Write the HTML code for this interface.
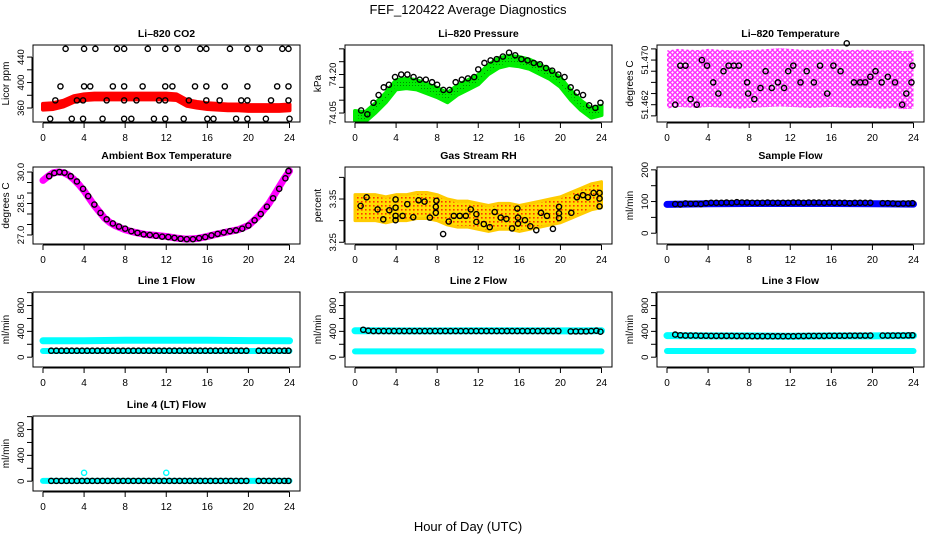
<!DOCTYPE html>
<html><head><meta charset="utf-8"><style>
html,body{margin:0;padding:0;background:#fff;}
svg{display:block;font-family:"Liberation Sans",Arial,sans-serif;}
</style></head><body>
<svg id="chart" width="936" height="540" viewBox="0 0 936 540" xmlns="http://www.w3.org/2000/svg">
<defs>
<pattern id="magPat" width="5" height="5" patternUnits="userSpaceOnUse"><circle cx="2.5" cy="2.5" r="1.8" fill="none" stroke="#ff00ff" stroke-width="1.2"/></pattern>
<pattern id="rhPat" width="4" height="4" patternUnits="userSpaceOnUse"><rect width="4" height="4" fill="#ffdd00"/><rect x="1" y="1" width="1.6" height="1.6" fill="#ff3300"/></pattern>
<pattern id="grnPat" width="3" height="3" patternUnits="userSpaceOnUse"><rect width="3" height="3" fill="#00ee00"/><rect x="1" y="1" width="1" height="1" fill="#008800"/></pattern>
</defs>
<text x="468" y="14" text-anchor="middle" font-size="13">FEF_120422  Average Diagnostics</text>
<text x="468" y="531" text-anchor="middle" font-size="13">Hour of Day (UTC)</text>
</svg>
<script>
// ---------- data ----------
const bandHours = [0,1,2,3,4,5,6,7,8,9,10,11,12,13,14,15,16,17,18,19,20,21,22,23,24];
const co2Band = [362,363,367,374,377,378,378,378,378,378,378,378,378,377,368,365,363,362,361,361,360,360,360,360,361];
const co2Hours = [2.2,4.0,5.1,7.2,7.9,10.2,11.9,13.1,15.3,15.9,18.2,19.9,21.1,23.3,23.9,
  1.7,4.0,4.6,6.8,7.9,9.7,11.9,12.6,14.8,15.9,17.7,19.9,22.8,23.9,
  1.2,3.3,3.9,6.2,7.9,9.1,11.3,11.9,14.2,15.9,17.2,19.3,19.9,22.2,23.9,
  0.7,2.8,3.9,5.8,7.9,8.6,10.8,11.9,13.7,16.0,16.6,18.8,19.9,21.7,24.0];
const co2Values = [453,453,453,453,453,453,453,453,453,453,453,453,453,453,453,
  394,394,394,394,394,394,394,394,394,394,394,394,394,394,
  372,372,372,372,372,372,372,372,372,372,372,372,372,372,372,
  343,343,343,343,343,343,343,343,343,343,343,343,343,343,343];
const presBand = [74.04,74.035,74.07,74.11,74.16,74.165,74.16,74.145,74.13,74.11,74.14,74.16,74.18,74.22,74.245,74.255,74.25,74.24,74.22,74.2,74.17,74.12,74.08,74.05,74.06];
const presHours = [0.6,1.2,1.8,2.3,2.8,3.3,3.9,4.5,5.1,5.7,6.3,6.9,7.5,8.0,8.6,9.2,9.8,10.4,11.0,11.6,12.0,12.6,13.2,13.8,14.4,15.0,15.6,16.2,16.8,17.4,18.0,18.6,19.2,19.8,20.4,21.0,21.6,22.2,22.8,23.4,23.9];
const presValues = [74.06,74.045,74.09,74.12,74.15,74.16,74.19,74.2,74.2,74.19,74.18,74.18,74.17,74.16,74.14,74.14,74.17,74.18,74.185,74.19,74.22,74.245,74.255,74.26,74.27,74.285,74.275,74.26,74.255,74.245,74.24,74.225,74.215,74.2,74.19,74.15,74.13,74.12,74.08,74.07,74.09];
const tempBand = [51.4665,51.4668,51.4667,51.4666,51.4668,51.4667,51.4666,51.4665,51.4666,51.4667,51.4668,51.4669,51.4668,51.4667,51.4666,51.4667,51.4668,51.4667,51.4666,51.4667,51.4666,51.4665,51.4666,51.4664,51.4665];
const tempHours = [0.8,1.3,1.8,2.3,2.9,3.4,3.9,4.5,5.0,5.5,6.0,6.5,7.0,7.8,7.9,8.5,9.1,9.6,10.2,10.8,11.4,11.8,12.3,13.0,13.6,14.3,14.9,15.6,16.2,16.9,17.5,18.2,18.8,19.3,19.8,20.3,20.9,21.5,22.2,22.9,23.3,23.8,23.9];
const tempValues = [51.462,51.469,51.469,51.463,51.462,51.470,51.469,51.466,51.464,51.468,51.469,51.469,51.469,51.466,51.464,51.463,51.465,51.468,51.465,51.466,51.465,51.468,51.469,51.466,51.468,51.466,51.469,51.464,51.469,51.468,51.473,51.466,51.466,51.466,51.467,51.468,51.466,51.467,51.466,51.462,51.464,51.466,51.469];
const ambLineHours = [0,0.5,1,1.5,2,2.5,3,3.5,4,4.5,5,5.5,6,6.5,7,7.5,8,9,10,11,12,13,14,15,16,17,18,19,20,21,22,23,23.5,24];
const ambLineValues = [29.6,29.8,29.97,30.0,29.97,29.85,29.65,29.4,29.1,28.75,28.4,28.1,27.8,27.6,27.45,27.35,27.25,27.12,27.02,26.98,26.93,26.85,26.8,26.83,26.93,27.05,27.15,27.25,27.45,27.9,28.5,29.3,29.7,30.05];
const ambHours = [0.6,1.1,1.6,2.1,2.7,3.3,3.9,4.4,5.0,5.6,6.2,6.8,7.4,8.0,8.6,9.2,9.8,10.4,11.0,11.6,12.2,12.8,13.4,14.0,14.6,15.2,15.8,16.4,17.0,17.6,18.2,18.8,19.4,20.0,20.6,21.2,21.8,22.4,23.0,23.6,23.9];
const ambValues = [29.8,29.95,30.0,29.97,29.8,29.55,29.2,28.85,28.45,28.05,27.75,27.55,27.4,27.3,27.18,27.1,27.03,27.0,26.96,26.92,26.9,26.86,26.82,26.8,26.8,26.85,26.9,26.98,27.05,27.12,27.18,27.22,27.3,27.45,27.7,28.0,28.35,28.75,29.2,29.7,30.05];
const rhBand = [3.33,3.33,3.33,3.325,3.33,3.33,3.335,3.335,3.33,3.32,3.315,3.315,3.31,3.305,3.31,3.31,3.305,3.31,3.315,3.32,3.325,3.335,3.345,3.355,3.36];
const rhHours = [0.55,1.13,2.2,2.75,3.34,3.95,3.95,3.95,3.95,4.63,5.09,5.67,6.19,6.77,7.29,7.87,7.87,7.93,8.58,9.13,9.62,10.2,10.79,11.27,11.82,11.82,12.54,13.12,13.6,14.19,14.74,15.29,15.81,15.87,15.87,16.55,17.07,17.65,18.11,18.69,19.27,19.86,19.86,19.86,21.06,21.61,22.19,22.68,23.23,23.81,23.81,23.81];
const rhValues = [3.334,3.354,3.326,3.303,3.324,3.33,3.311,3.301,3.349,3.311,3.338,3.308,3.347,3.344,3.307,3.332,3.318,3.346,3.269,3.298,3.311,3.311,3.311,3.326,3.315,3.297,3.292,3.285,3.32,3.307,3.304,3.282,3.328,3.307,3.293,3.301,3.287,3.278,3.318,3.311,3.281,3.332,3.317,3.306,3.318,3.354,3.359,3.354,3.364,3.364,3.351,3.333];
const flowBandHours = [0,4,8,12,16,20,24];
const sampleBand = [91,93,94,94,94,93,92];
const line1High = [255,255,262,262,262,256,255];
const line1Low = [95,95,96,96,96,96,96];
const line2High = [410,408,408,410,410,408,410];
const line2Low = [90,90,90,90,90,90,90];
const line3High = [335,330,330,325,330,330,335];
const line3Low = [95,95,95,95,95,95,95];
const line4Band = [5,5,5,5,5,5,5];
const flowHours = [0.8,1.3,1.8,2.3,2.8,3.3,3.8,4.3,4.8,5.3,5.8,6.3,6.8,7.3,7.8,8.3,8.8,9.3,9.8,10.3,10.8,11.3,11.8,12.3,12.8,13.3,13.8,14.3,14.8,15.3,15.8,16.3,16.8,17.3,17.8,18.3,18.8,19.3,19.8,21.0,21.5,22.0,22.5,23.0,23.5,23.9];
const sampleValues = [92,91,94,93,93,92,95,96,96,96,97,96,98,97,97,96,96,96,97,96,96,96,96,97,97,96,97,97,97,96,97,96,96,96,95,96,96,96,96,95,95,94,93,94,94,95];
const line1Values = [100,100,100,100,100,100,100,100,100,100,100,100,100,100,100,100,100,100,100,100,100,100,100,100,100,100,100,100,100,100,100,100,100,100,100,100,100,100,100,100,100,100,100,100,100,100];
const line2Values = [425,410,405,405,405,405,405,405,405,405,405,405,405,405,405,405,405,405,405,405,405,405,405,405,405,405,405,405,405,405,405,405,405,405,405,405,405,405,405,400,400,400,400,405,410,395];
const line3Values = [350,340,335,335,335,332,332,330,330,330,330,330,328,328,328,326,326,326,325,325,325,325,325,325,328,328,330,330,330,330,332,332,332,332,334,334,334,334,335,335,335,335,336,336,338,340];
const line4Values = [5,5,5,5,5,5,5,5,5,5,5,5,5,5,5,5,5,5,5,5,5,5,5,5,5,5,5,5,5,5,5,5,5,5,5,5,5,5,5,5,5,5,5,5,5,5];
const line4SpikeHours = [4.0,12.0];
const line4SpikeValues = [130,130];
const xTicks = [0,4,8,12,16,20,24];
const flowTicks = [0,200,400,600,800,1000];
const flowTickLabels = ["0","","400","","800",""];

// ---------- drawing ----------
const NS = "http://www.w3.org/2000/svg";
const svg = document.getElementById('chart');
function mk(tag, attrs, parent){
  const e = document.createElementNS(NS, tag);
  for (const k in attrs) e.setAttribute(k, attrs[k]);
  (parent||svg).appendChild(e);
  return e;
}
const colX = [33,345,657];
const rowY = [[45,122],[167,244],[292,367],[416,491]];

function makePanel(col,row,title,ylab,ylim,ticks,tickLabels,name){
  const x0 = colX[col], x1 = x0+267, y0 = rowY[row][0], y1 = rowY[row][1];
  const g = mk('g',{});
  
  
  const xs = h => x0 + 10 + h*246.5/24;
  const ys = v => y1 - (v - ylim[0])/(ylim[1]-ylim[0])*(y1-y0);
  const t = mk('text',{x:(x0+x1)/2,y:y0-8,'text-anchor':'middle','font-size':10.5,'font-weight':'bold'},g);
  t.textContent = title;
  
  
  const plot = mk('g',{},g);
  
  
  const box = mk('rect',{x:x0,y:y0,width:x1-x0,height:y1-y0,fill:'none',stroke:'#000','stroke-width':1},g);
  
  
  const xa = mk('g',{},g);
  
  
  mk('line',{x1:xs(xTicks[0]),x2:xs(xTicks[xTicks.length-1]),y1:y1+1,y2:y1+1,stroke:'#000'},xa);
  xTicks.forEach(v=>{
    mk('line',{x1:xs(v),x2:xs(v),y1:y1+1,y2:y1+6,stroke:'#000'},xa);
    const l = mk('text',{x:xs(v),y:y1+19,'text-anchor':'middle','font-size':10},xa);
    l.textContent = v;
  });
  const ya = mk('g',{},g);
  
  
  mk('line',{x1:x0-1,x2:x0-1,y1:ys(ticks[0]),y2:ys(ticks[ticks.length-1]),stroke:'#000'},ya);
  ticks.forEach((v,i)=>{
    mk('line',{x1:x0-1,x2:x0-6,y1:ys(v),y2:ys(v),stroke:'#000'},ya);
    if (tickLabels[i]) {
      const l = mk('text',{x:0,y:0,'text-anchor':'middle','font-size':9.5,transform:`translate(${x0-9},${ys(v)}) rotate(-90)`},ya);
      l.textContent = tickLabels[i];
    }
  });
  const yl = mk('text',{x:0,y:0,'text-anchor':'middle','font-size':10,transform:`translate(${x0-24},${(y0+y1)/2}) rotate(-90)`},g);
  yl.textContent = ylab;
  
  
  return {plot,xs,ys};
}
function band(p,hours,vals,half,fill,stroke,sw,name){
  let pts = hours.map((h,i)=>`${p.xs(h)},${p.ys(vals[i]+half)}`);
  for (let i=hours.length-1;i>=0;i--) pts.push(`${p.xs(hours[i])},${p.ys(vals[i]-half)}`);
  const e = mk('polygon',{points:pts.join(' '),fill:fill,stroke:stroke,'stroke-width':sw,'stroke-linejoin':'round'},p.plot);
  
  
}
function line(p,hours,vals,color,sw,name){
  const e = mk('polyline',{points:hours.map((h,i)=>`${p.xs(h)},${p.ys(vals[i])}`).join(' '),fill:'none',stroke:color,'stroke-width':sw,'stroke-linecap':'round','stroke-linejoin':'round'},p.plot);
  
  
}
function circles(p,hours,vals,color,name){
  const g = mk('g',{},p.plot);
  
  
  const n = Math.min(hours.length, vals.length);
  for (let i=0;i<n;i++){
    const c = mk('circle',{cx:p.xs(hours[i]),cy:p.ys(vals[i]),r:2.6,fill:'none',stroke:color,'stroke-width':1.4},g);
    
    
  }
}

// Panel 1 CO2
let p = makePanel(0,0,'Li\u2013820 CO2','Licor ppm',[338,459],[360,380,400,420,440],['360','','400','','440'],'co2');
band(p,bandHours,co2Band,4.5,'#ff0000','#ff0000',4,'co2-band');
circles(p,co2Hours,co2Values,'#000','co2-points');
// Panel 2 pressure
p = makePanel(1,0,'Li\u2013820 Pressure','kPa',[74.015,74.315],[74.05,74.10,74.15,74.20,74.25,74.30],['74.05','','','74.20','',''],'pressure');
band(p,bandHours,presBand,0.018,'url(#grnPat)','#00ee00',4,'pressure-band');
circles(p,presHours,presValues,'#000','pressure-points');
// Panel 3 temperature
p = makePanel(2,0,'Li\u2013820 Temperature','degrees C',[51.4589,51.4727],[51.460,51.462,51.464,51.466,51.468,51.470,51.472],['','51.462','','','','51.470',''],'li820-temperature');
band(p,bandHours,tempBand,0.0052,'url(#magPat)','none',0,'temperature-cloud');
circles(p,tempHours,tempValues,'#000','temperature-points');
// Panel 4 ambient
p = makePanel(0,1,'Ambient Box Temperature','degrees C',[26.57,30.24],[27.0,27.5,28.0,28.5,29.0,29.5,30.0],['27.0','','','28.5','','','30.0'],'ambient');
line(p,ambLineHours,ambLineValues,'#ff00ff',7,'ambient-line');
circles(p,ambHours,ambValues,'#000','ambient-points');
// Panel 5 RH
p = makePanel(1,1,'Gas Stream RH','percent',[3.246,3.424],[3.25,3.30,3.35,3.40],['3.25','','3.35',''],'gas-rh');
band(p,bandHours,rhBand,0.03,'url(#rhPat)','#ffcc00',3,'rh-cloud');
circles(p,rhHours,rhValues,'#000','rh-points');
// Panel 6 sample flow
p = makePanel(2,1,'Sample Flow','ml/min',[-34,209],[0,50,100,150,200],['0','','100','','200'],'sample-flow');
line(p,flowBandHours,sampleBand,'#0000ff',7,'sample-band');
circles(p,flowHours,sampleValues,'#000','sample-points');
// Line 1
p = makePanel(0,2,'Line 1 Flow','ml/min',[-152,1010],flowTicks,flowTickLabels,'line1');
line(p,flowBandHours,line1High,'#00ffff',7,'line1-high-band');
line(p,flowBandHours,line1Low,'#00ffff',6,'line1-low-band');
circles(p,flowHours,line1Values,'#000','line1-points');
// Line 2
p = makePanel(1,2,'Line 2 Flow','ml/min',[-152,1010],flowTicks,flowTickLabels,'line2');
line(p,flowBandHours,line2High,'#00ffff',7,'line2-high-band');
line(p,flowBandHours,line2Low,'#00ffff',6,'line2-low-band');
circles(p,flowHours,line2Values,'#000','line2-points');
// Line 3
p = makePanel(2,2,'Line 3 Flow','ml/min',[-152,1010],flowTicks,flowTickLabels,'line3');
line(p,flowBandHours,line3High,'#00ffff',7,'line3-high-band');
line(p,flowBandHours,line3Low,'#00ffff',6,'line3-low-band');
circles(p,flowHours,line3Values,'#000','line3-points');
// Line 4
p = makePanel(0,3,'Line 4 (LT) Flow','ml/min',[-152,1010],flowTicks,flowTickLabels,'line4');
line(p,flowBandHours,line4Band,'#00ffff',6,'line4-band');
circles(p,line4SpikeHours,line4SpikeValues,'#00ffff','line4-spikes');
circles(p,flowHours,line4Values,'#000','line4-points');
</script>
</body></html>
